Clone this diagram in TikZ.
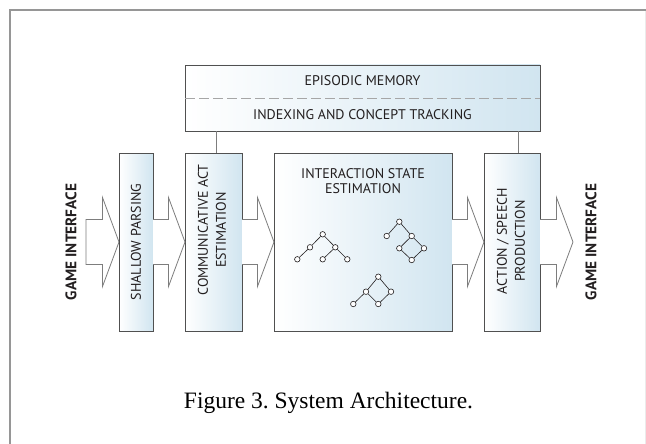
\documentclass[tikz,border=0pt]{standalone}
\usepackage{fontspec}
\setmainfont{Liberation Serif}
\newfontfamily\labfont{PT Sans}
\usetikzlibrary{calc}
\frenchspacing

\definecolor{boxblue}{RGB}{209,229,240}
\definecolor{boxedge}{RGB}{80,80,80}
\definecolor{arrowgray}{RGB}{125,125,125}
\definecolor{framegray}{RGB}{150,150,150}
\definecolor{inkgray}{RGB}{35,31,32}

% block arrow from the east side of one module to the west side of the next
\newcommand\modarrow[2]{%
  \draw[blockarrow] ($(#1)+(0,-22.5)$) -- ($(#2)+(-16.5,-22.5)$)
    -- ($(#2)+(-16.5,-44.5)$) -- (#2) -- ($(#2)+(-16.5,44.5)$)
    -- ($(#2)+(-16.5,22.5)$) -- ($(#1)+(0,22.5)$);}

\begin{document}
\begin{tikzpicture}[x=1pt,y=-1pt,
  module/.style={draw=boxedge, line width=0.9pt, left color=white, right color=boxblue,
    inner sep=0pt, outer sep=0pt},
  lab/.style={font=\labfont\fontsize{14}{16}\selectfont, align=center, text=inkgray},
  vlab/.style={font=\labfont\fontsize{14}{18}\selectfont, align=center, text=inkgray, rotate=90},
  gilab/.style={font=\labfont\bfseries\fontsize{15.3}{17}\selectfont, text=inkgray, rotate=90},
  blockarrow/.style={draw=arrowgray, line width=0.8pt, fill=white, line join=miter},
  conn/.style={draw=arrowgray, line width=0.8pt},
  sep/.style={draw=black!35, line width=0.8pt, dash pattern=on 10pt off 4pt},
  gnode/.style={circle, draw=inkgray, fill=white, line width=0.6pt, inner sep=0pt,
    minimum size=5.5pt},
  gedge/.style={draw=inkgray, line width=0.6pt},
  caption/.style={font=\fontsize{23.5}{26}\selectfont, text=black}
]
\useasboundingbox (0,0) rectangle (646,444);

% page frame
\draw[black!8, line width=0.6pt] (645.5,10) -- (645.5,444);
\draw[framegray, line width=1.3pt] (10,444) -- (10,10) -- (646,10);

% free ends of the outer arrows
\coordinate (gin) at (86,242);
\coordinate (gout) at (573,242);

% incoming arrow (closed at its tail)
\draw[blockarrow] ($(gin)+(0,-22.5)$) -- ($(119,242)+(-16.5,-22.5)$)
  -- ($(119,242)+(-16.5,-44.5)$) -- (119,242) -- ($(119,242)+(-16.5,44.5)$)
  -- ($(119,242)+(-16.5,22.5)$) -- ($(gin)+(0,22.5)$) -- cycle;

% memory block
\node[module, minimum width=355pt, minimum height=66pt] (mem) at (362.5,98) {};
\draw[sep] (mem.west) -- (mem.east);
\node[lab] (epi) at (362.5,81) {EPISODIC MEMORY};
\node[lab] (idx) at (362.5,115) {INDEXING AND CONCEPT TRACKING};

% processing modules
\node[module, minimum width=34pt, minimum height=178pt] (sp) at (136,242) {};
\node[module, minimum width=57pt, minimum height=178pt] (ca) at (213.5,242) {};
\node[module, minimum width=178pt, minimum height=178pt] (is) at (363,242) {};
\node[module, minimum width=56pt, minimum height=178pt] (ap) at (512,242) {};

\modarrow{sp.east}{ca.west}
\modarrow{ca.east}{is.west}
\modarrow{is.east}{ap.west}
\modarrow{ap.east}{gout}

% links to the memory block
\path (ca.north) ++(2.5,0) coordinate (catop);
\path (ap.north) ++(6,0) coordinate (aptop);
\draw[conn] (catop) -- (catop |- mem.south);
\draw[conn] (aptop) -- (aptop |- mem.south);

% module labels
\node[vlab] (spl) at (136,242) {SHALLOW PARSING};
\node[vlab] (cal) at (212,230) {COMMUNICATIVE ACT\\ESTIMATION};
\node[lab, font=\labfont\fontsize{14}{15.5}\selectfont] (isl) at (363,181) {INTERACTION STATE\\ESTIMATION};
\node[vlab] (apl) at (511,241) {ACTION / SPEECH\\PRODUCTION};

\node[gilab] (gil) at (71,242) {GAME INTERFACE};
\node[gilab] (gir) at (591,242) {GAME INTERFACE};

% structure graphs inside the interaction state module
\node[gnode] (ta) at (322.7,234.3) {};
\node[gnode] (tb) at (310,247.3) {};
\node[gnode] (tc) at (335.3,247.3) {};
\node[gnode] (td) at (297.3,259.3) {};
\node[gnode] (te) at (322.7,259.3) {};
\node[gnode] (tf) at (347.3,259.3) {};
\draw[gedge] (ta) -- (tb) (ta) -- (tc) (tb) -- (td) (tc) -- (te) (tc) -- (tf);

\node[gnode] (ua) at (399.3,221.7) {};
\node[gnode] (ub) at (386.7,236) {};
\node[gnode] (uc) at (411.7,236) {};
\node[gnode] (ud) at (399.3,248.3) {};
\node[gnode] (ue) at (424,248.3) {};
\node[gnode] (uf) at (411.7,260) {};
\draw[gedge] (ua) -- (ub) (ua) -- (uc) (uc) -- (ud) (uc) -- (ue) (ud) -- (uf) (ue) -- (uf);

\node[gnode] (va) at (378.3,276.7) {};
\node[gnode] (vb) at (366,291.7) {};
\node[gnode] (vc) at (391,291.7) {};
\node[gnode] (vd) at (353.3,304) {};
\node[gnode] (ve) at (378.3,304) {};
\draw[gedge] (va) -- (vb) (va) -- (vc) (vb) -- (vd) (vb) -- (ve) (vc) -- (ve);

% caption
\node[caption, anchor=base] (cap) at (328.5,408) {Figure 3. System Architecture.};
\end{tikzpicture}
\end{document}
